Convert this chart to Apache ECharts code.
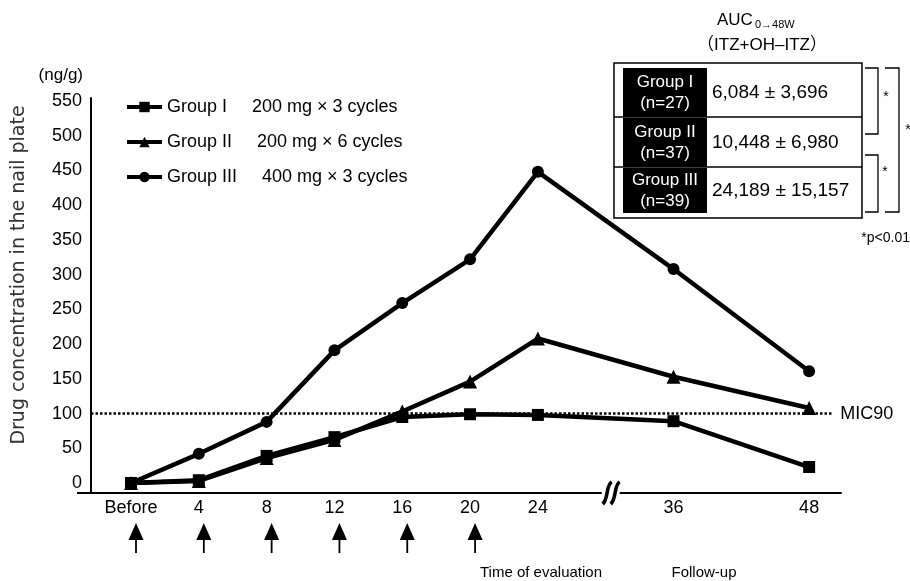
<!DOCTYPE html>
<html><head><meta charset="utf-8">
<script src="https://cdn.jsdelivr.net/npm/echarts@6/dist/echarts.min.js"></script>
<style>html,body{margin:0;padding:0;background:#fff}#c{width:910px;height:581px}</style>
</head><body><div id="c"></div>
<script>
// ---- data ----
const xLabels = ['Before', '4', '8', '12', '16', '20', '24', '36', '48'];
const xSlots = [0, 1, 2, 3, 4, 5, 6, 8, 10];      // axis slot of each time label (broken axis after 24)
const breakSlot = 7;
const dosingLabels = ['Before', '4', '8', '12', '16', '20'];
const groupNames = ['Group I', 'Group II', 'Group III'];
const doseTexts = ['200 mg × 3 cycles', '200 mg × 6 cycles', '400 mg × 3 cycles'];
const group1 = [0, 4, 39, 66, 95, 99, 98, 89, 23];
const group2 = [0, 3, 36, 62, 103, 146, 208, 153, 108];
const group3 = [0, 42, 88, 191, 259, 322, 448, 308, 161];
const yTicks = [0, 50, 100, 150, 200, 250, 300, 350, 400, 450, 500, 550];
const mic90 = 100;
const aucGroups = ['Group I', 'Group II', 'Group III'];
const aucN = ['(n=27)', '(n=37)', '(n=39)'];
const aucValues = ['6,084 ± 3,696', '10,448 ± 6,980', '24,189 ± 15,157'];

const FONT = '"Liberation Sans", Arial, sans-serif';
const chart = echarts.init(document.getElementById('c'), null, {renderer: 'canvas'});

function pts(arr) { return xSlots.map((s, i) => [s, arr[i]]); }
const symbols = ['rect', 'triangle', 'circle'];
const symbolSizes = [12, 14, 12];
const seriesData = [group1, group2, group3];

const series = seriesData.map((d, i) => ({
  name: groupNames[i],
  type: 'line',
  data: pts(d),
  symbol: symbols[i],
  symbolSize: symbolSizes[i],
  showAllSymbol: true,
  lineStyle: {color: '#000', width: 4.5},
  itemStyle: {color: '#000'},
  z: 3 + i,
  animation: false
}));
series[0].markLine = {
  silent: true,
  symbol: 'none',
  animation: false,
  lineStyle: {color: '#000', type: [2.5, 2], width: 2.5},
  label: {show: true, position: 'end', formatter: 'MIC90', color: '#000', fontSize: 18, fontFamily: FONT, distance: 8},
  data: [[{coord: [-0.59, mic90]}, {coord: [10.34, mic90]}]]
};

chart.setOption({
  animation: false,
  backgroundColor: '#fff',
  grid: {left: 91, top: 98, right: 69, bottom: 88, containLabel: false},
  xAxis: {
    type: 'value', min: -0.59, max: 10.47,
    axisLine: {onZero: false, lineStyle: {color: '#000', width: 2}},
    axisTick: {show: false},
    splitLine: {show: false},
    axisLabel: {
      customValues: xSlots,
      formatter: v => xLabels[xSlots.indexOf(v)] || '',
      color: '#000', fontSize: 18, fontFamily: FONT, margin: 6
    }
  },
  yAxis: {
    type: 'value', min: -14.4, max: 554.3,
    name: '(ng/g)', nameLocation: 'end', nameGap: 23,
    nameTextStyle: {align: 'right', verticalAlign: 'middle', padding: [0, 8, 0, 0], color: '#000', fontSize: 17, fontFamily: FONT},
    axisLine: {show: true, onZero: false, lineStyle: {color: '#000', width: 2}},
    axisTick: {show: false},
    splitLine: {show: false},
    axisLabel: {customValues: yTicks, color: '#000', fontSize: 18, fontFamily: FONT, margin: 9}
  },
  legend: {
    data: groupNames, orient: 'vertical', left: 125, top: 98, padding: 0,
    itemWidth: 35, itemHeight: 13, itemGap: 17,
    lineStyle: {width: 4, color: '#000'},
    itemStyle: {color: '#000'},
    formatter: name => name + '     ' + doseTexts[groupNames.indexOf(name)],
    textStyle: {color: '#000', fontSize: 18, fontFamily: FONT, lineHeight: 18},
    selectedMode: false
  },
  series: series
});

// ---- annotations positioned through the axes ----
const g = [];
const px = s => chart.convertToPixel({gridIndex: 0}, [s, 0])[0];
const axisY = chart.convertToPixel({gridIndex: 0}, [0, -14.4])[1];
const leftX = chart.convertToPixel({gridIndex: 0}, [-0.59, 0])[0];

// x axis line extends a little left of the y axis
g.push({type: 'line', shape: {x1: leftX - 14, y1: axisY, x2: leftX, y2: axisY}, style: {stroke: '#000', lineWidth: 2}});

// y axis title
g.push({type: 'text', x: 19, y: 275, rotation: Math.PI / 2,
  style: {text: 'Drug concentration in the nail plate', fill: '#333', font: '19px "DejaVu Sans", sans-serif', align: 'center', verticalAlign: 'middle'}});

// axis break
const bx = px(breakSlot) + 5;
g.push({type: 'rect', shape: {x: bx - 9, y: axisY - 3, width: 18, height: 6}, style: {fill: '#fff'}});
[-4, 4].forEach(d => {
  g.push({type: 'bezierCurve', shape: {x1: bx + d + 5, y1: axisY - 11, cpx1: bx + d - 1, cpy1: axisY - 8, cpx2: bx + d + 2, cpy2: axisY + 6, x2: bx + d - 4, y2: axisY + 11},
    style: {stroke: '#000', lineWidth: 3.6, fill: null}});
});

// dosing arrows
dosingLabels.forEach(lab => {
  const x = px(xSlots[xLabels.indexOf(lab)]) + 5;
  g.push({type: 'polygon', shape: {points: [[x, 523], [x - 7.5, 540], [x + 7.5, 540]]}, style: {fill: '#000'}});
  g.push({type: 'line', shape: {x1: x, y1: 539, x2: x, y2: 553}, style: {stroke: '#000', lineWidth: 1.8}});
});

g.push({type: 'text', x: 541, y: 573, style: {text: 'Time of evaluation', fill: '#000', font: '15px ' + FONT, align: 'center', verticalAlign: 'middle'}});
g.push({type: 'text', x: 704, y: 573, style: {text: 'Follow-up', fill: '#000', font: '15px ' + FONT, align: 'center', verticalAlign: 'middle'}});

// AUC table
g.push({type: 'text', x: 717, y: 20, style: {text: 'AUC', fill: '#000', font: '17px ' + FONT, align: 'left', verticalAlign: 'middle'}});
g.push({type: 'text', x: 755, y: 25, style: {text: '0→48W', fill: '#000', font: '11px ' + FONT, align: 'left', verticalAlign: 'middle'}});
g.push({type: 'text', x: 762, y: 45, style: {text: '（ITZ+OH–ITZ）', fill: '#000', font: '17px ' + FONT + ', "Noto Sans CJK JP"', align: 'center', verticalAlign: 'middle'}});
g.push({type: 'rect', shape: {x: 614, y: 63, width: 248, height: 155}, style: {fill: '#fff', stroke: '#000', lineWidth: 1.5}});
const rowTop = [63, 117, 167], rowBot = [117, 167, 213];
aucGroups.forEach((lab, i) => {
  if (i > 0) g.push({type: 'line', shape: {x1: 614, y1: rowTop[i], x2: 862, y2: rowTop[i]}, style: {stroke: '#000', lineWidth: 1.5}});
  const top = i === 0 ? 68 : rowTop[i] + 1;
  const bot = rowBot[i];
  g.push({type: 'rect', shape: {x: 623, y: top, width: 84, height: bot - top}, style: {fill: '#000'}});
  const cy = (top + bot) / 2;
  g.push({type: 'text', x: 665, y: cy - 10, style: {text: lab, fill: '#fff', font: '17px ' + FONT, align: 'center', verticalAlign: 'middle'}});
  g.push({type: 'text', x: 665, y: cy + 11, style: {text: aucN[i], fill: '#fff', font: '17px ' + FONT, align: 'center', verticalAlign: 'middle'}});
  g.push({type: 'text', x: 712, y: cy, style: {text: aucValues[i], fill: '#000', font: '19px ' + FONT, align: 'left', verticalAlign: 'middle'}});
});
// significance brackets
const br = (x1, x2, y1, y2) => g.push({type: 'polyline', shape: {points: [[x1, y1], [x2, y1], [x2, y2], [x1, y2]]}, style: {stroke: '#000', lineWidth: 1.3, fill: null}});
br(865, 878, 68, 134); br(865, 878, 155, 212); br(885, 899, 68, 212);
[[886, 97], [885, 172], [908, 130]].forEach(p => g.push({type: 'text', x: p[0], y: p[1], style: {text: '*', fill: '#000', font: '14px ' + FONT, align: 'center', verticalAlign: 'middle'}}));
g.push({type: 'text', x: 910, y: 238, style: {text: '*p<0.01', fill: '#000', font: '14px ' + FONT, align: 'right', verticalAlign: 'middle'}});

chart.setOption({graphic: g.map(e => Object.assign({silent: true, z: 100}, e))});
</script></body></html>
